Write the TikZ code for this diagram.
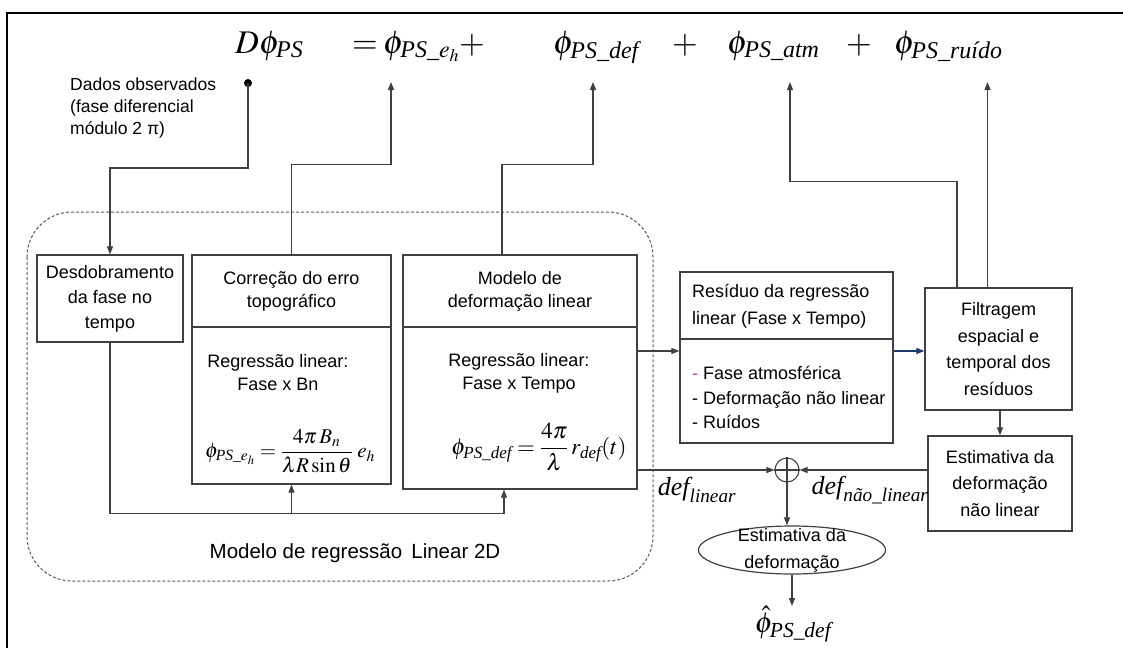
\documentclass[tikz,border=0pt]{standalone}
\usepackage{amsmath}
\usepackage{mathptmx}
\usepackage[no-math]{fontspec}
\setmainfont{Liberation Sans}
\newfontfamily\serifit{Liberation Serif}
\usetikzlibrary{positioning,arrows.meta,shapes.geometric}

\newcommand{\mt}[1]{\text{\serifit\itshape #1}}
\newcommand{\sub}[1]{\text{\fontsize{24}{24}\selectfont\serifit\itshape #1}}
\newcommand{\boxfont}{\fontsize{18}{25}\selectfont}
\definecolor{navy}{RGB}{31,56,110}

\tikzset{
  line/.style={draw=black!75, line width=1.1pt},
  arr/.style={line, -{Triangle[length=8pt,width=6pt]}},
  blok/.style={draw=black!75, line width=1.2pt, inner sep=0pt, align=center, font=\boxfont},
  txt/.style={inner sep=0pt, align=center, font=\boxfont},
  eq/.style={inner sep=0pt, anchor=base west, font=\fontsize{33}{36}\selectfont},
  dlab/.style={inner sep=0pt, font=\fontsize{26}{30}\selectfont},
  fml/.style={inner sep=0pt, font=\fontsize{21}{25}\selectfont},
}

\begin{document}
\begin{tikzpicture}[x=1pt, y=-1pt]
    \useasboundingbox (0,0) rectangle (1123,648);

    % frame
    \path[draw, line width=2.2pt] (7,648) -- (7,13) -- (1123,13);

    % equation
    \node[eq] (eqD) at (235,53) {$D\phi_{\sub{PS}}$};
    \node[eq] (eqeq) at (352,53) {$=$};
    \node[eq] (eqEh) at (383,53) {$\phi_{\sub{PS\_$e_h$}}$};
    \node[eq] (plus1) at (459,53) {$+$};
    \node[eq] (eqDef) at (553,53) {$\phi_{\sub{PS\_def}}$};
    \node[eq] (plus2) at (672,53) {$+$};
    \node[eq] (eqAtm) at (727,53) {$\phi_{\sub{PS\_atm}}$};
    \node[eq] (plus3) at (846,53) {$+$};
    \node[eq] (eqRuido) at (894,53) {$\phi_{\sub{PS\_ruído}}$};

    \coordinate (tEh) at (391,82);
    \coordinate (tDef) at (593,82);
    \coordinate (tAtm) at (790,82);
    \coordinate (tRuido) at (987.5,82);
    \coordinate (tHat) at (792,606);
    \coordinate (yres) at (0,351);

    % observed data
    \node[circle, fill=black, inner sep=0pt, minimum size=8pt] (obs) at (248,83) {};
    \node[inner sep=0pt, anchor=north west, align=left, font=\fontsize{17.5}{21.7}\selectfont] (dados) at (70,78)
        {Dados observados\\(fase diferencial\\módulo 2 π)};

    % regression region
    \path[draw=black!65, line width=1pt, dash pattern=on 3pt off 2pt, rounded corners=45pt]
        (27,212) rectangle (653,581);
    \node[txt, font=\fontsize{20.5}{24}\selectfont] (regiao) at (355,553) {Modelo de regressão\, Linear 2D};

    % boxes
    \node[blok, minimum width=146pt, minimum height=87pt] (desd) at (110,298.5) {Desdobramento\\da fase no\\tempo};
    \node[blok, minimum width=199pt, minimum height=72pt, font=\fontsize{18}{23}\selectfont] (corrT) at (291.5,291) {Correção do erro\\topográfico};
    \node[blok, minimum width=199pt, minimum height=157pt] (corrB) at (291.5,405.5) {};
    \node[blok, minimum width=234pt, minimum height=72pt, font=\fontsize{18}{23}\selectfont] (modT) at (520,291) {Modelo de\\deformação linear};
    \node[blok, minimum width=234pt, minimum height=162pt] (modB) at (520,408) {};
    \node[blok, minimum width=213pt, minimum height=67pt] (resT) at (786.5,305.5) {};
    \node[blok, minimum width=213pt, minimum height=104pt] (resB) at (786.5,391) {};
    \node[blok, minimum width=147pt, minimum height=122pt, font=\fontsize{18}{26.7}\selectfont] (filt) at (998.5,349) {Filtragem\\espacial e\\temporal dos\\resíduos};
    \node[blok, minimum width=144pt, minimum height=95pt, font=\fontsize{18}{26.5}\selectfont] (estNL) at (1000,483.5) {Estimativa da\\deformação\\não linear};
    \node[blok, ellipse, minimum width=187pt, minimum height=48pt, inner sep=-5pt, font=\fontsize{18}{27}\selectfont] (estim) at (792,550) {Estimativa da\\deformação};
    \node[draw=black!75, line width=1.1pt, circle, minimum size=24pt, inner sep=0pt] (sum) at (787,470) {};
    \path[line] (sum.north) -- (sum.south) (sum.west) -- (sum.east);

    % box contents
    \node[txt, font=\fontsize{18}{23}\selectfont] (corrTxt) at (278,373) {Regressão linear:\\Fase x Bn};
    \node[fml] (corrF) at (290,451) {$\displaystyle \phi_{\mt{PS\_}e_h} = \frac{4\pi\, B_n}{\lambda R\sin\theta}\; e_h$};
    \node[txt, font=\fontsize{18}{23}\selectfont] (modTxt) at (519,373) {Regressão linear:\\Fase x Tempo};
    \node[fml, font=\fontsize{23}{27}\selectfont] (modF) at (539,447) {$\displaystyle \phi_{\mt{PS\_def}} = \frac{4\pi}{\lambda}\, r_{\mt{def}}(t)$};
    \node[txt, anchor=west, align=left, font=\fontsize{18}{27}\selectfont] (resTxt) at (692,306.5) {Resíduo da regressão\\linear (Fase x Tempo)};
    \node[txt, anchor=west, align=left, font=\fontsize{18}{24.5}\selectfont] (resLst) at (692,397.5)
        {\textcolor{violet!70}{-} Fase atmosférica\\- Deformação não linear\\- Ruídos};

    % labels
    \node[dlab] (dLin) at (697,490) {$\mt{def}_{\mt{linear}}$};
    \node[dlab] (dNL) at (870,490) {$\mt{def}_{\mt{não\_linear}}$};
    \node[dlab, font=\fontsize{29}{32}\selectfont] (phiHat) at (793,624) {$\hat{\phi}_{\mt{PS\_def}}$};

    % connectors
    \path[arr] (obs.center) -- ++(0,85) -| (desd.north);
    \path[arr] (corrT.north) -- ++(0,-90) -| (tEh);
    \path[arr] ([xshift=-18pt]modT.north) -- ++(0,-90) -| (tDef);
    \path[arr] ([xshift=-41.5pt]filt.north) -- ++(0,-106) -| (tAtm);
    \path[arr] ([xshift=-11pt]filt.north) -- (tRuido);
    \path[arr] (desd.south) -- ++(0,171) -| ([xshift=-16pt]modB.south);
    \path[arr] ([yshift=-29pt]corrB.south) -- (corrB.south);
    \path[arr] (modB.east |- yres) -- (resB.west |- yres);
    \path[arr, draw=navy] (resB.east |- yres) -- (filt.west |- yres);
    \path[arr] (filt.south -| estNL.north) -- (estNL.north);
    \path[arr] (modB.east |- sum.west) -- (sum.west);
    \path[arr] (estNL.west |- sum.east) -- (sum.east);
    \path[arr] (sum.south) -- (sum.south |- estim.north);
    \path[arr] (estim.south) -- (tHat);

\end{tikzpicture}
\end{document}
